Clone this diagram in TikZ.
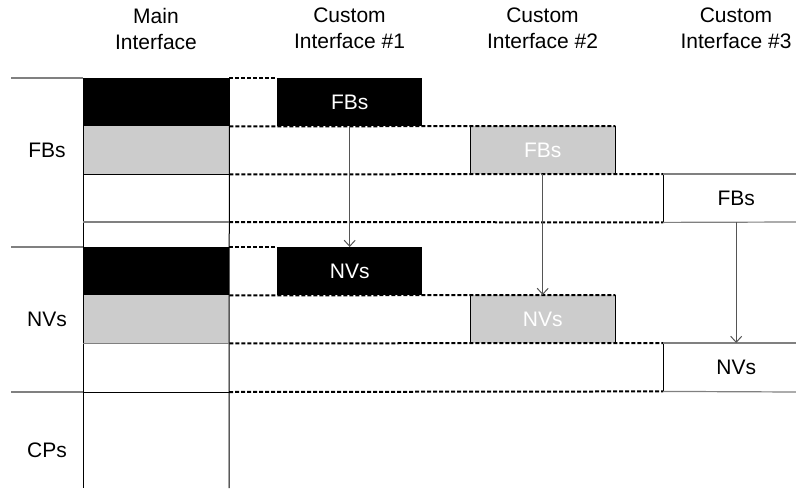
\documentclass[tikz,border=0pt]{standalone}
\usepackage{fontspec}
\setmainfont{Liberation Sans}
\usetikzlibrary{arrows.meta}
\definecolor{cellgray}{HTML}{CCCCCC}
\definecolor{rulegray}{HTML}{808080}
\definecolor{arrowgray}{HTML}{555555}

\begin{document}
\begin{tikzpicture}[x=1pt,y=-1pt,
  txt/.style={font=\fontsize{21}{26}\selectfont, inner sep=0pt, align=center},
  cell/.style={minimum width=145pt, minimum height=48pt, inner sep=0pt,
    anchor=north west, font=\fontsize{21}{26}\selectfont},
  blackcell/.style={cell, fill=black, text=white},
  graycell/.style={cell, fill=cellgray, text=white},
  guide/.style={black, dash pattern=on 4pt off 2pt, line width=2pt},
  edge/.style={black, line width=1pt},
  softrule/.style={rulegray, line width=1.2pt},
  flow/.style={arrowgray, line width=1pt, -{Straight Barb[length=6pt,width=11pt]}}
]
\useasboundingbox (0,0) rectangle (796,488);

% column headers
\node[txt] (hmain) at (156,28.5) {Main\\Interface};
\node[txt] (hc1) at (349.5,28.5) {Custom\\Interface \#1};
\node[txt] (hc2) at (542.5,28.5) {Custom\\Interface \#2};
\node[txt] (hc3) at (736,28.5) {Custom\\Interface \#3};

% row labels
\node[txt, anchor=base] (rfb) at (47,157) {FBs};
\node[txt, anchor=base] (rnv) at (47,326) {NVs};
\node[txt, anchor=base] (rcp) at (47,457) {CPs};

% main interface cells
\node[blackcell, minimum width=146pt] (mfb) at (83,78) {};
\node[graycell, minimum width=146pt] (mfbg) at (83,126) {};
\node[blackcell, minimum width=146pt] (mnv) at (83,247) {};
\node[graycell, minimum width=146pt] (mnvg) at (83,295) {};

% custom interface cells
\node[blackcell] (c1fb) at (277,78) {FBs};
\node[graycell] (c2fb) at (470,126) {FBs};
\node[cell, minimum width=146pt] (c3fb) at (663,174) {FBs};
\node[blackcell] (c1nv) at (277,247) {NVs};
\node[graycell] (c2nv) at (470,295) {NVs};
\node[cell, minimum width=146pt] (c3nv) at (663,343) {NVs};

% row separators on the left
\draw[softrule] (11,78) -- (mfb.north west);
\draw[softrule] (11,247) -- (mnv.north west);
\draw[softrule] (11,392) -- (83,392);

% main interface column
\draw[edge] (mfb.north west) -- (83,488);
\draw[edge] (mfb.north east) -- (229,488);
\draw[edge] (mfbg.south west) -- (mfbg.south east);
\draw[softrule] (83,222) -- (229,222);
\draw[softrule] (mnvg.south west) -- (mnvg.south east);
\draw[edge] (83,392) -- (229,392);

% dashed extensions into the custom interfaces
\draw[guide] (mfb.north east) -- (c1fb.north west);
\draw[guide] (mfb.south east) -- (c2fb.north east);
\draw[guide] (mfbg.south east) -- (c3fb.north west);
\draw[guide] (229,222) -- (c3fb.south west);
\draw[guide] (mnv.north east) -- (c1nv.north west);
\draw[guide] (mnv.south east) -- (c2nv.north east);
\draw[guide] (mnvg.south east) -- (c3nv.north west);
\draw[guide] (229,392) -- (c3nv.south west);

% cell edges
\draw[edge] (c2fb.north west) -- (c2fb.south west);
\draw[edge] (c2fb.north east) -- (c2fb.south east);
\draw[edge] (c2nv.north west) -- (c2nv.south west);
\draw[edge] (c2nv.north east) -- (c2nv.south east);
\draw[edge] (c3fb.north west) -- (c3fb.south west);
\draw[edge] (c3nv.north west) -- (c3nv.south west);
\draw[softrule] (c3fb.north west) -- (796,174);
\draw[softrule] (c3fb.south west) -- (796,222);
\draw[softrule] (c3nv.north west) -- (796,343);
\draw[softrule] (c3nv.south west) -- (796,392);

% FBs to NVs
\draw[flow] (c1fb.south) -- (c1nv.north);
\draw[flow] (c2fb.south) -- (c2nv.north);
\draw[flow] (c3fb.south) -- (c3nv.north);
\end{tikzpicture}
\end{document}
